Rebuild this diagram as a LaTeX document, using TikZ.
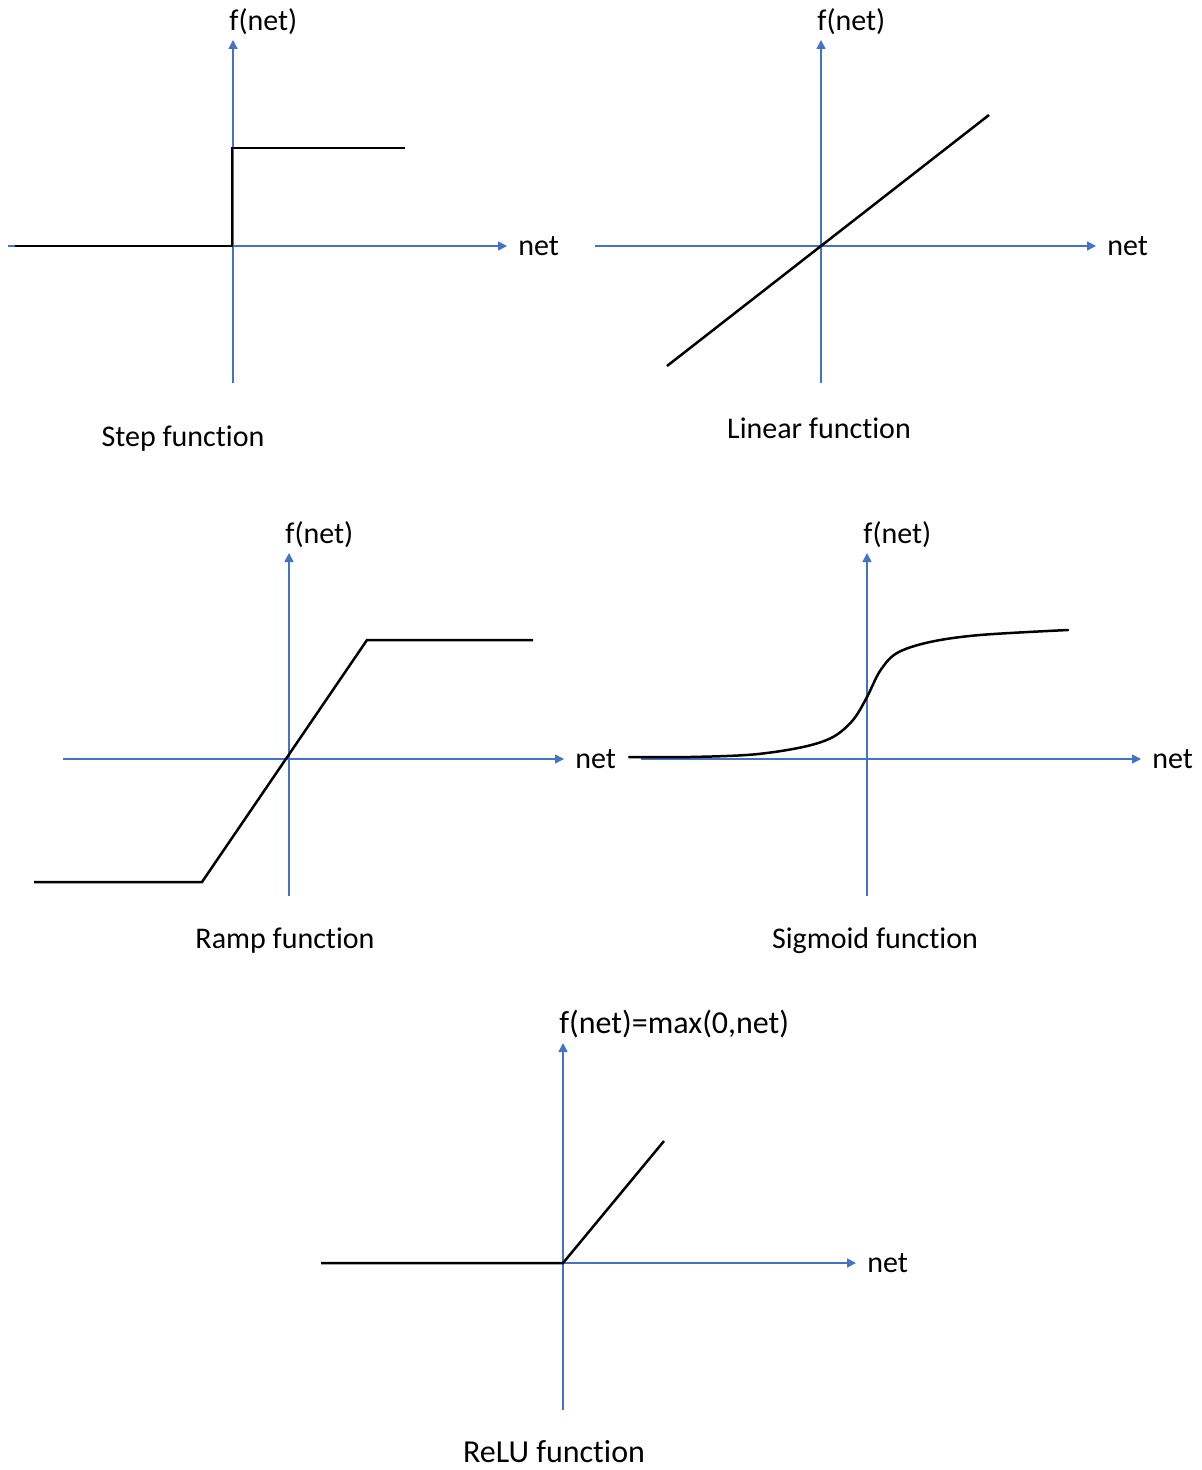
\documentclass[tikz,border=0pt]{standalone}
\usepackage{fontspec}
\setmainfont[Ligatures=NoCommon]{Carlito}
\usetikzlibrary{arrows.meta}
\definecolor{axisblue}{RGB}{68,114,196}
\begin{document}
\begin{tikzpicture}[x=0.5pt,y=-0.5pt,
  axis/.style={draw=axisblue,line width=0.75pt,-{Triangle[length=4.5pt,width=4.5pt]}},
  curve/.style={draw=black,line width=1.25pt,line join=miter},
  lbl/.style={inner sep=0pt,font=\fontsize{15}{18}\selectfont},
  big/.style={font=\fontsize{16}{19}\selectfont},
  ylbl/.style={lbl,anchor=south west,xshift=-2pt,yshift=2.5pt},
  xlbl/.style={lbl,anchor=west,xshift=5.5pt}]
\useasboundingbox (0,0) rectangle (1202,1470);

% ---- Step function ----
\coordinate (s-l) at (8,246);   \coordinate (s-r) at (507,246);
\coordinate (s-b) at (233,383); \coordinate (s-t) at (233,40);
\draw[axis] (s-l) -- (s-r);
\draw[axis] (s-b) -- (s-t);
\node[xlbl] (s-net) at (s-r) {net};
\node[ylbl] (s-f) at (s-t) {f(net)};
\coordinate (s0) at (15,246); \coordinate (s1) at (232,246);
\coordinate (s2) at (232,148); \coordinate (s3) at (405,148);
\draw[curve] (s0) -- (s1) -- (s2) -- (s3);
\node[lbl] (s-cap) at (183,439) {Step function};

% ---- Linear function ----
\coordinate (l-l) at (595,246); \coordinate (l-r) at (1096,246);
\coordinate (l-b) at (821,383); \coordinate (l-t) at (821,40);
\draw[axis] (l-l) -- (l-r);
\draw[axis] (l-b) -- (l-t);
\node[xlbl] (l-net) at (l-r) {net};
\node[ylbl] (l-f) at (l-t) {f(net)};
\coordinate (l0) at (667,366); \coordinate (l1) at (989,115);
\draw[curve] (l0) -- (l1);
\node[lbl] (l-cap) at (819,428) {Linear function};

% ---- Ramp function ----
\coordinate (r-l) at (63,759);  \coordinate (r-r) at (564,759);
\coordinate (r-b) at (289,896); \coordinate (r-t) at (289,553);
\draw[axis] (r-l) -- (r-r);
\draw[axis] (r-b) -- (r-t);
\node[xlbl] (r-net) at (r-r) {net};
\node[ylbl] (r-f) at (r-t) {f(net)};
\coordinate (r0) at (34,882);  \coordinate (r1) at (202,882);
\coordinate (r2) at (367,640); \coordinate (r3) at (533,640);
\draw[curve] (r0) -- (r1) -- (r2) -- (r3);
\node[lbl] (r-cap) at (285,941) {Ramp function};

% ---- Sigmoid function ----
\coordinate (g-l) at (641,759); \coordinate (g-r) at (1141,759);
\coordinate (g-b) at (867,896); \coordinate (g-t) at (867,553);
\draw[axis] (g-l) -- (g-r);
\draw[axis] (g-b) -- (g-t);
\node[xlbl] (g-net) at (g-r) {net};
\node[ylbl] (g-f) at (g-t) {f(net)};
\draw[curve,line cap=round] plot[smooth,tension=0.55] coordinates
  {(629,757) (690,757) (753,754.5) (803,747) (833,737) (853,720) (867,697)
   (880,671) (897,653) (930,642) (980,635) (1068,630)};
\node[lbl] (g-cap) at (875,941) {Sigmoid function};

% ---- ReLU function ----
\coordinate (u-l) at (330,1263); \coordinate (u-r) at (856,1263);
\coordinate (u-b) at (563,1410); \coordinate (u-t) at (563,1043);
\draw[axis] (u-l) -- (u-r);
\draw[axis] (u-b) -- (u-t);
\node[xlbl] (u-net) at (u-r) {net};
\node[ylbl,big] (u-f) at (u-t) {f(net)=max(0,net)};
\coordinate (u0) at (321,1263); \coordinate (u1) at (563,1263);
\coordinate (u2) at (664,1141);
\draw[curve] (u0) -- (u1) -- (u2);
\node[lbl,big] (u-cap) at (554,1452) {ReLU function};
\end{tikzpicture}
\end{document}
